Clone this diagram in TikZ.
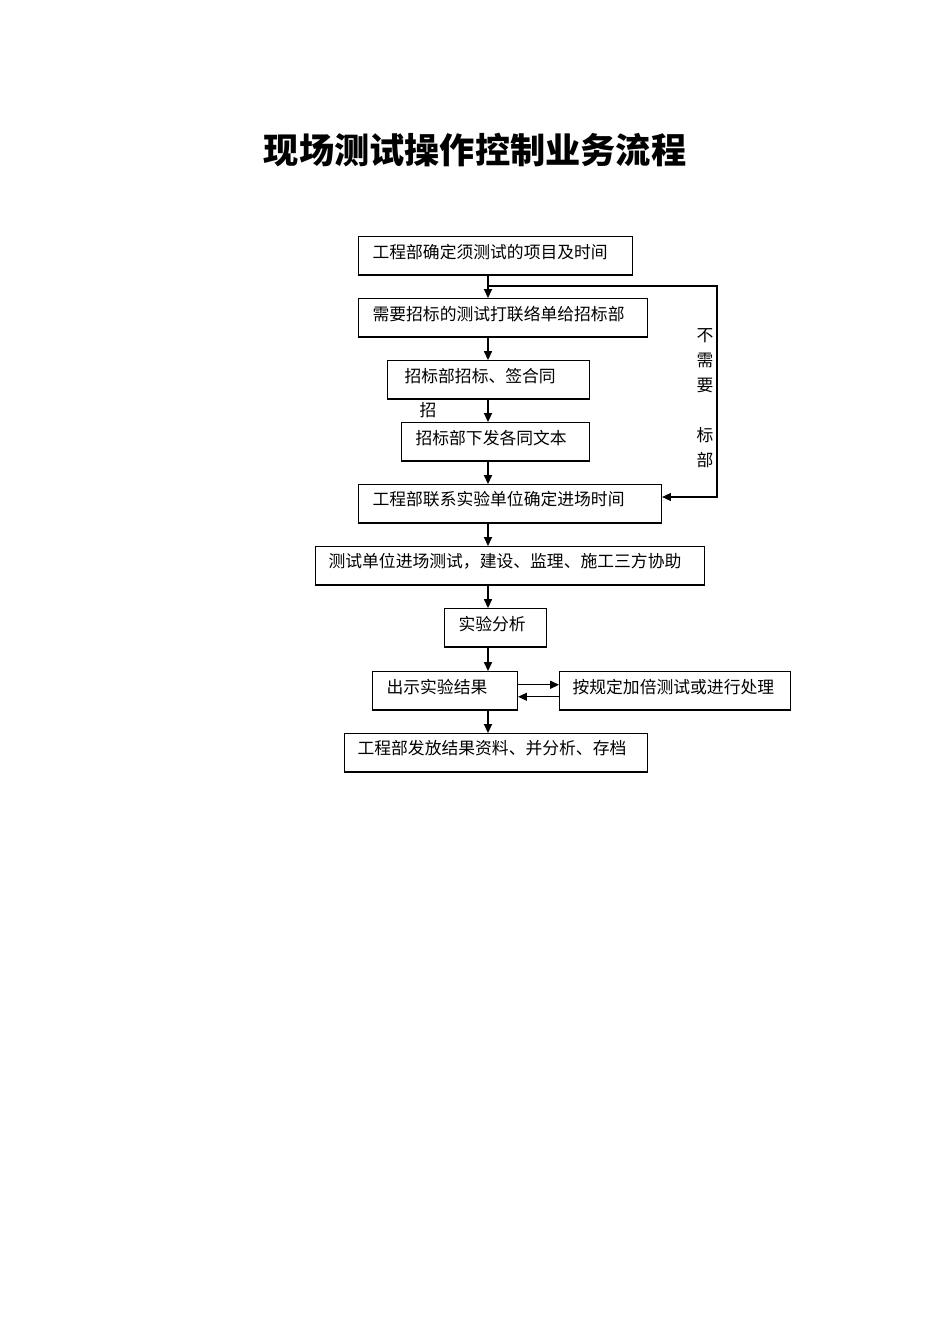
\documentclass[tikz,border=0pt]{standalone}
\usepackage{fontspec}
\setmainfont{Noto Sans CJK SC}
\usetikzlibrary{arrows.meta}
\newcommand\up[1]{\raisebox{2.6pt}[\height][\depth]{#1}}
\tikzset{
  fbox/.style={draw, line width=0.7pt, minimum height=24pt, inner ysep=0pt, align=left,
    anchor=north west, font=\fontsize{10.5}{13}\selectfont},
  arr/.style={line width=0.7pt, -{Triangle[length=5.5pt,width=5pt]}},
  ln/.style={line width=0.7pt},
  lbl/.style={font=\fontsize{10.5}{15.6}\selectfont, inner sep=0pt, align=center}
}
\begin{document}
\begin{tikzpicture}[x=0.625pt,y=-0.625pt]
\path[use as bounding box, fill=white] (0,0) rectangle (950,1344);
\node[font=\fontsize{22}{26}\selectfont\bfseries, inner sep=0pt] (title) at (475,150) {现场测试操作控制业务流程};

\node[fbox, minimum width=171.25pt, text width=153.75pt, inner xsep=8.75pt] (b1) at (358,236) {\up{工程部确定须测试的项目及时间}};
\node[fbox, minimum width=180.625pt, text width=163.125pt, inner xsep=8.75pt] (b2) at (358,298) {\up{需要招标的测试打联络单给招标部}};
\node[fbox, minimum width=126.25pt, text width=105pt, inner xsep=10.625pt] (b3) at (387,360) {\up{招标部招标、签合同}};
\node[fbox, minimum width=117.5pt, text width=100pt, inner xsep=8.75pt] (b4) at (401,422) {\up{招标部下发各同文本}};
\node[fbox, minimum width=189.375pt, text width=171.875pt, inner xsep=8.75pt] (b5) at (358,484) {\up{工程部联系实验单位确定进场时间}};
\node[fbox, minimum width=243.125pt, text width=226.875pt, inner xsep=8.125pt] (b6) at (315,546) {\up{测试单位进场测试，建设、监理、施工三方协助}};
\node[fbox, minimum width=63.75pt, text width=46.25pt, inner xsep=8.75pt] (b7) at (444,608) {\up{实验分析}};
\node[fbox, minimum width=90.625pt, text width=73.125pt, inner xsep=8.75pt] (b8) at (372,671) {\up{出示实验结果}};
\node[fbox, minimum width=144.375pt, text width=128.125pt, inner xsep=8.125pt] (b9) at (559,671) {\up{按规定加倍测试或进行处理}};
\node[fbox, minimum width=189.375pt, text width=173.125pt, inner xsep=8.125pt] (b10) at (344,733) {\up{工程部发放结果资料、并分析、存档}};

\node[lbl] (side) at (705,398.5) {不\\需\\要\\[15.6pt]标\\部};
\node[lbl] (zh) at (428,410) {招};

\coordinate (ax) at (488,0);
\coordinate (j) at (488,286);
\coordinate (k) at (717,286);
\coordinate (k2) at (717,497);

\draw[arr] (b1.south -| ax) -- (b2.north -| ax);
\draw[arr] (b2.south -| ax) -- (b3.north -| ax);
\draw[arr] (b3.south -| ax) -- (b4.north -| ax);
\draw[arr] (b4.south -| ax) -- (b5.north -| ax);
\draw[arr] (b5.south -| ax) -- (b6.north -| ax);
\draw[arr] (b6.south -| ax) -- (b7.north -| ax);
\draw[arr] (b7.south -| ax) -- (b8.north -| ax);
\draw[arr] (b8.south -| ax) -- (b10.north -| ax);

\draw[arr] (j) -- (k) -- (k2) -- (k2 -| b5.east);

\draw[arr] ([yshift=3.75pt]b8.east) -- ([yshift=3.75pt]b9.west);
\draw[arr] ([yshift=-3.75pt]b9.west) -- ([yshift=-3.75pt]b8.east);
\end{tikzpicture}
\end{document}
